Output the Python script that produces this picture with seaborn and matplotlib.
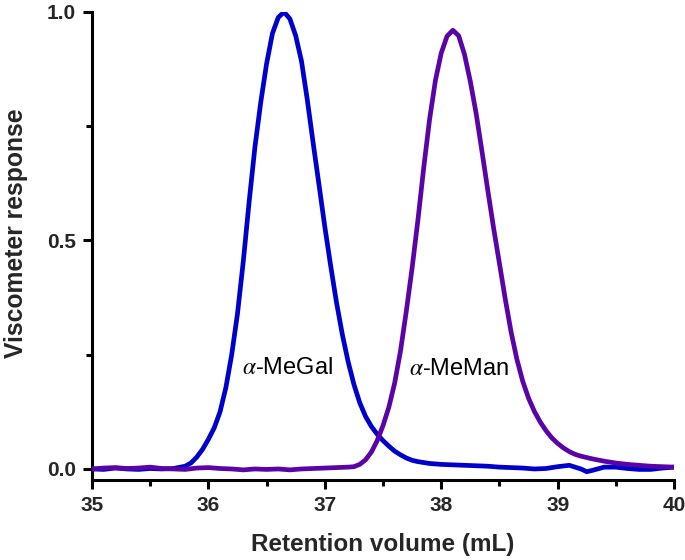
import numpy as np
import pandas as pd
import matplotlib
matplotlib.use("Agg")
import matplotlib.pyplot as plt
import seaborn as sns
from matplotlib.ticker import MultipleLocator

# ---- data ----
megal_x = [35.00, 35.10, 35.20, 35.30, 35.40, 35.50, 35.60, 35.70, 35.80, 35.85,
           35.90, 35.95, 36.00, 36.05, 36.10, 36.15, 36.20, 36.25, 36.30, 36.35,
           36.40, 36.45, 36.50, 36.55, 36.60, 36.65, 36.70, 36.75, 36.80, 36.85,
           36.90, 36.95, 37.00, 37.05, 37.10, 37.15, 37.20, 37.25, 37.30, 37.35,
           37.40, 37.45, 37.50, 37.55, 37.60, 37.65, 37.70, 37.75, 37.80, 37.90, 38.00,
           38.10, 38.20, 38.30, 38.40, 38.50, 38.60, 38.70, 38.80, 38.90, 39.00,
           39.10, 39.20, 39.25, 39.30, 39.40, 39.50, 39.60, 39.70, 39.80, 39.90, 40.00]
megal_y = [0.000, -0.001, 0.002, 0.000, -0.001, 0.001, 0.000, 0.001, 0.006, 0.013,
           0.026, 0.043, 0.065, 0.090, 0.125, 0.178, 0.250, 0.340, 0.455, 0.585,
           0.705, 0.803, 0.887, 0.953, 0.988, 1.000, 0.985, 0.948, 0.892, 0.807,
           0.713, 0.622, 0.530, 0.445, 0.365, 0.295, 0.235, 0.185, 0.145, 0.115,
           0.093, 0.076, 0.062, 0.050, 0.039, 0.031, 0.024, 0.019, 0.016, 0.012, 0.010,
           0.009, 0.008, 0.007, 0.006, 0.004, 0.003, 0.002, 0.000, 0.001, 0.005,
           0.008, 0.000, -0.006, -0.003, 0.004, 0.004, 0.001, -0.001, -0.001, 0.002, 0.004]

meman_x = [35.00, 35.10, 35.20, 35.30, 35.40, 35.50, 35.60, 35.70, 35.80, 35.90,
           36.00, 36.10, 36.20, 36.30, 36.40, 36.50, 36.60, 36.70, 36.80, 36.90,
           37.00, 37.10, 37.20, 37.25, 37.30, 37.35, 37.40, 37.45, 37.50,
           37.55, 37.60, 37.65, 37.70, 37.75, 37.80, 37.85, 37.90, 37.95, 38.00,
           38.05, 38.10, 38.15, 38.20, 38.25, 38.30, 38.35, 38.40, 38.45, 38.50,
           38.55, 38.60, 38.65, 38.70, 38.75, 38.80, 38.85, 38.90, 38.95, 39.00,
           39.05, 39.10, 39.15, 39.20, 39.30, 39.40, 39.50, 39.60, 39.70, 39.80, 39.90, 40.00]
meman_y = [0.000, 0.002, 0.003, 0.001, 0.002, 0.004, 0.001, 0.000, -0.001, 0.002,
           0.003, 0.001, 0.000, -0.002, 0.000, -0.001, 0.000, -0.002, 0.000, 0.001,
           0.002, 0.003, 0.004, 0.005, 0.010, 0.020, 0.037, 0.062, 0.095,
           0.135, 0.188, 0.258, 0.345, 0.440, 0.545, 0.660, 0.765, 0.850, 0.910,
           0.947, 0.960, 0.948, 0.907, 0.848, 0.778, 0.695, 0.610, 0.527, 0.450,
           0.372, 0.300, 0.240, 0.192, 0.155, 0.126, 0.103, 0.084, 0.068, 0.056,
           0.046, 0.038, 0.032, 0.028, 0.022, 0.017, 0.013, 0.010, 0.008, 0.006, 0.005, 0.004]

labels = [r"$\alpha$-MeGal", r"$\alpha$-MeMan"]
label_pos_x = [36.29, 37.72]
label_pos_y = [0.221, 0.218]
colors = ["#0000CC", "#5A04A8"]

x_ticks = [35, 36, 37, 38, 39, 40]
y_ticks = [0.0, 0.5, 1.0]

# ---- plotting ----
sns.set_theme(style="ticks")
plt.rcParams["font.family"] = ["Liberation Sans", "DejaVu Sans"]
plt.rcParams["mathtext.fontset"] = "stix"

fig = plt.figure(figsize=(6.85, 5.6), dpi=100)
ax = fig.add_axes([0.1343, 0.1429, 0.8497, 0.8357])

df1 = pd.DataFrame({"x": megal_x, "y": megal_y})
df2 = pd.DataFrame({"x": meman_x, "y": meman_y})
sns.lineplot(data=df1, x="x", y="y", ax=ax, color=colors[0], linewidth=3.4, zorder=3)
sns.lineplot(data=df2, x="x", y="y", ax=ax, color=colors[1], linewidth=3.4, zorder=4)

for lab, lx, ly in zip(labels, label_pos_x, label_pos_y):
    ax.text(lx, ly, lab, fontsize=17, ha="left", va="center", color="black")

ax.set_xlim(35, 40)
ax.set_ylim(-0.0241, 1.0)
ax.set_xticks(x_ticks)
ax.set_xticklabels([str(t) for t in x_ticks])
ax.set_yticks(y_ticks)
ax.set_yticklabels([f"{t:.1f}" for t in y_ticks])
ax.xaxis.set_minor_locator(MultipleLocator(0.5))
ax.yaxis.set_minor_locator(MultipleLocator(0.25))

for s in ["top", "right"]:
    ax.spines[s].set_visible(False)
for s in ["left", "bottom"]:
    ax.spines[s].set_linewidth(2.2)
    ax.spines[s].set_color("black")

ax.tick_params(which="major", direction="out", length=6.5, width=2.2, color="black",
               labelsize=15, pad=5)
ax.tick_params(which="minor", direction="out", length=4, width=2.2, color="black")
for lbl in ax.get_xticklabels() + ax.get_yticklabels():
    lbl.set_fontweight("bold")

ax.set_xlabel("Retention volume (mL)", fontsize=17.5, fontweight="bold", labelpad=13)
ax.set_ylabel("Viscometer response", fontsize=17.8, fontweight="bold")
ax.yaxis.set_label_coords(-0.110, 0.528)
ax.grid(False)

fig.savefig("out.png", dpi=100)
